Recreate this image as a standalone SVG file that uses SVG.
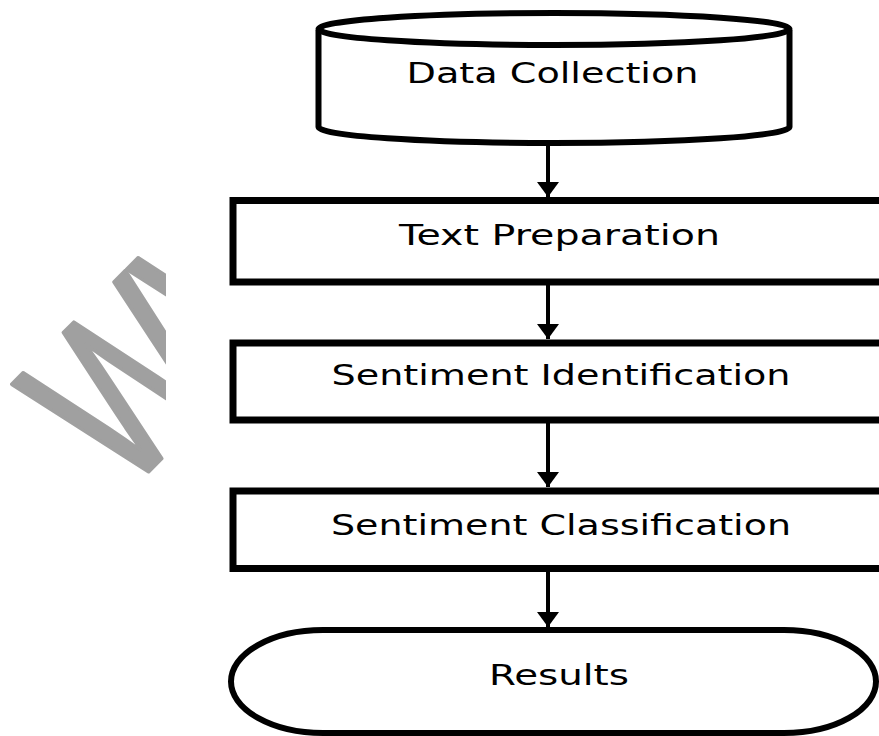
<svg xmlns="http://www.w3.org/2000/svg" width="879" height="736" viewBox="0 0 879 736">
  <style>
    .shape { fill: #ffffff; stroke: #000000; }
    .thick { stroke-width: 7; }
    .med { stroke-width: 6; }
    .label { font-family: "DejaVu Sans", Verdana, sans-serif; font-size: 28px; fill: #000000; }
    .conn { stroke: #000000; stroke-width: 4; fill: none; }
    .wm { font-family: "Liberation Sans", Arial, sans-serif; font-size: 230px; fill: #a0a0a0; stroke: #a0a0a0; stroke-width: 4; stroke-linejoin: round; }
  </style>
  <defs>
    <marker id="ah" markerUnits="userSpaceOnUse" markerWidth="15" markerHeight="22" viewBox="0 0 15 22" refX="15" refY="11" orient="auto">
      <polygon points="0,0 15,11 0,22" fill="#000000"/>
    </marker>
    <clipPath id="wmclip">
      <rect x="0" y="0" width="166" height="736"/>
    </clipPath>
  </defs>
  <rect x="0" y="0" width="879" height="736" fill="#ffffff"/>

  <g id="watermark" clip-path="url(#wmclip)">
    <text class="wm" transform="translate(123,497) rotate(-45) scale(0.75,1)">WW</text>
  </g>

  <g id="connectors">
    <line class="conn" x1="548" y1="146" x2="548" y2="197" marker-end="url(#ah)"/>
    <line class="conn" x1="548" y1="285" x2="548" y2="339" marker-end="url(#ah)"/>
    <line class="conn" x1="548" y1="423" x2="548" y2="487" marker-end="url(#ah)"/>
    <line class="conn" x1="548" y1="572" x2="548" y2="627" marker-end="url(#ah)"/>
  </g>

  <g id="node-data-collection">
    <path class="shape med" d="M318.5,30 L318.5,127 A235.5,16 0 0 0 789.5,127 L789.5,30"/>
    <ellipse class="shape med" cx="554" cy="29" rx="235.5" ry="16"/>
    <text class="label" x="406.5" y="83" textLength="292" lengthAdjust="spacingAndGlyphs">Data Collection</text>
  </g>

  <g id="node-text-preparation">
    <rect class="shape thick" x="233" y="200.5" width="700" height="81.5"/>
    <text class="label" x="399" y="245" textLength="321" lengthAdjust="spacingAndGlyphs">Text Preparation</text>
  </g>

  <g id="node-sentiment-identification">
    <rect class="shape thick" x="233" y="343" width="700" height="77"/>
    <text class="label" x="331.5" y="385" textLength="459" lengthAdjust="spacingAndGlyphs">Sentiment Identification</text>
  </g>

  <g id="node-sentiment-classification">
    <rect class="shape thick" x="233" y="491" width="700" height="77.5"/>
    <text class="label" x="331" y="535" textLength="460" lengthAdjust="spacingAndGlyphs">Sentiment Classification</text>
  </g>

  <g id="node-results">
    <path class="shape med" d="M323,630 H784 A92,51.5 0 0 1 784,733 H323 A92,51.5 0 0 1 323,630 Z"/>
    <text class="label" x="489" y="685" textLength="140" lengthAdjust="spacingAndGlyphs">Results</text>
  </g>
</svg>
